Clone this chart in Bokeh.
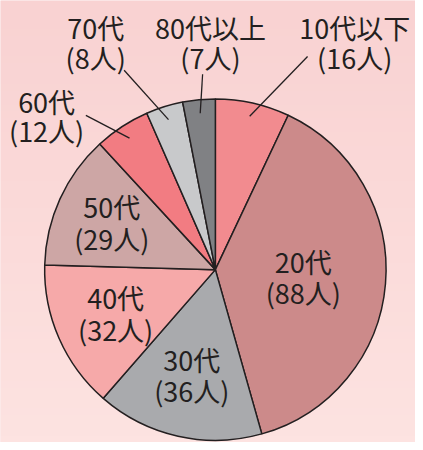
import numpy as np
from bokeh.plotting import figure
from bokeh.models import Range1d, ColumnDataSource
from bokeh.core.properties import value
from bokeh.embed import file_html
from bokeh.resources import INLINE

# ---- data ----
categories = ["10代以下", "20代", "30代", "40代", "50代", "60代", "70代", "80代以上"]
counts = [16, 88, 36, 32, 29, 12, 8, 7]
colors = ["#f28b8f", "#cc8a8a", "#a9aaad", "#f6a9a9", "#cda6a5", "#f27c82", "#c8c9cb", "#808184"]

# ---- layout (reference pixel frame 423x450, y measured from top) ----
W, H = 415, 442
def Y(ypx):
    return 450 - ypx

CX, CY, R = 219, Y(274), 174
FONT = "Noto Sans CJK JP"
FS = "27px"
INK = "#231f20"

p = figure(width=W, height=H, output_backend="svg", toolbar_location=None,
           x_range=Range1d(0, 423), y_range=Range1d(0, 450),
           min_border=0)
p.axis.visible = False
p.grid.visible = False
p.outline_line_color = None
p.background_fill_color = "#fbdada"
p.border_fill_color = "#fbdada"

# background gradient (top -> bottom)
n = 64
top = np.array([249, 210, 210]); bot = np.array([253, 227, 225])
img = np.zeros((n, 1), dtype=np.uint32)
view = img.view(dtype=np.uint8).reshape((n, 1, 4))
for i in range(n):
    t = i / (n - 1)  # i=0 is bottom row
    c = bot * (1 - t) + top * t
    view[i, 0, 0:3] = c.astype(np.uint8)
    view[i, 0, 3] = 255
p.image_rgba(image=[img], x=0, y=0, dw=423, dh=450)

# ---- pie ----
total = sum(counts)
cum = np.cumsum([0] + counts)
frac_start = cum[:-1] / total
frac_end = cum[1:] / total
start_angle = np.pi / 2 - 2 * np.pi * frac_end
end_angle = np.pi / 2 - 2 * np.pi * frac_start
mid = (start_angle + end_angle) / 2

src = ColumnDataSource(dict(start=start_angle, end=end_angle, color=colors))
p.wedge(x=CX, y=CY, radius=R, start_angle="start", end_angle="end",
        fill_color="color", line_color=INK, line_width=1.5, source=src)

line1 = [c for c in categories]
line2 = [f"({v}人)" for v in counts]

# inside labels: radius for each (None = outside label)
inside_r = [None, 90, 110, 111, 116, None, None, None]
LH = 32
for i, r in enumerate(inside_r):
    if r is None:
        continue
    lx = CX + r * np.cos(mid[i])
    ly = CY + r * np.sin(mid[i])
    p.text(x=[lx], y=[ly + LH / 2], text=[line1[i]], text_font=value(FONT),
           text_font_size=FS, text_align="center", text_baseline="middle", text_color=INK)
    p.text(x=[lx], y=[ly - LH / 2], text=[line2[i]], text_font=value(FONT),
           text_font_size=FS, text_align="center", text_baseline="middle", text_color=INK)

# outside labels: text centre (px) and leader outer end (px)
outside = {0: ((361, 27), (313, 57)),
           7: ((214, 27), (206, 75)),
           6: ((97, 27), (126, 71)),
           5: ((47, 103), (87, 117))}
for i, ((tx, ty), (ex, ey)) in outside.items():
    p.text(x=[tx], y=[Y(ty)], text=[line1[i]], text_font=value(FONT),
           text_font_size=FS, text_align="center", text_baseline="middle", text_color=INK)
    ty2 = ty + (31 if i != 5 else 29)
    p.text(x=[tx], y=[Y(ty2)], text=[line2[i]], text_font=value(FONT),
           text_font_size=FS, text_align="center", text_baseline="middle", text_color=INK)
    ix = CX + 160 * np.cos(mid[i])
    iy = CY + 160 * np.sin(mid[i])
    p.line(x=[ex, ix], y=[Y(ey), iy], line_color=INK, line_width=1.3)

open("out.html", "w").write(file_html(p, INLINE))
